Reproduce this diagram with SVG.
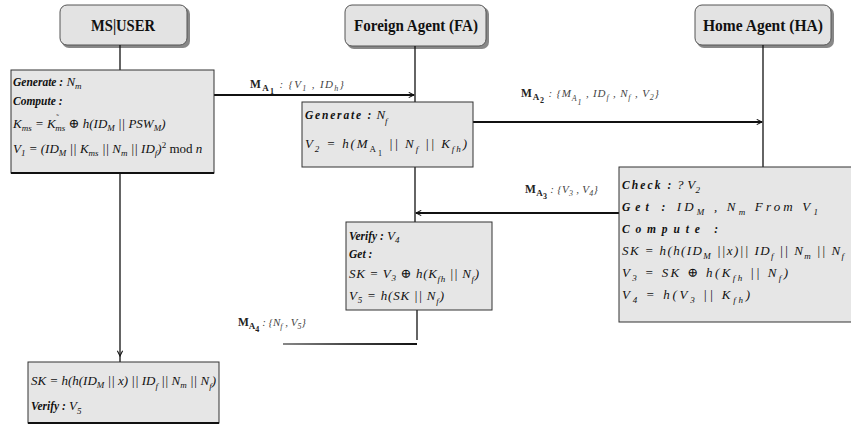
<svg xmlns="http://www.w3.org/2000/svg" width="851" height="425" viewBox="0 0 851 425">
  <style>
    text { font-family: "Liberation Serif", "DejaVu Serif", "Times New Roman", serif; fill: #111; }
    .hdr { font-size: 16.5px; font-weight: bold; text-anchor: middle; }
    .hbox { fill: #e3e3e3; stroke: #555; stroke-width: 1; }
    .shadow { fill: #888; }
    .box { fill: #e6e6e6; stroke: #333; stroke-width: 1; }
    .eq { font-size: 13px; font-style: italic; }
    .kw { font-size: 11.5px; font-style: italic; font-weight: bold; }
    .kwsp { font-size: 11.5px; font-style: italic; font-weight: bold; letter-spacing: 1.8px; }
    .lbl { font-size: 11.5px; font-weight: bold; fill: #222; }
    .lblr { font-size: 11px; font-style: italic; fill: #444; }
    .sub { font-size: 9px; }
    .line { stroke: #111; stroke-width: 1.3; fill: none; }
    .thick { stroke: #111; stroke-width: 2; fill: none; }
  </style>
  <defs>
    <marker id="arr" viewBox="0 0 8 8" refX="7" refY="4" markerWidth="7" markerHeight="7" orient="auto" markerUnits="userSpaceOnUse">
      <path d="M1,1 L7,4 L1,7" fill="none" stroke="#111" stroke-width="1.2"/>
    </marker>
    <linearGradient id="fade" gradientUnits="userSpaceOnUse" x1="283" y1="0" x2="417" y2="0">
      <stop offset="0" stop-color="#888"/>
      <stop offset="0.5" stop-color="#444"/>
      <stop offset="1" stop-color="#111"/>
    </linearGradient>
  </defs>

  <rect width="851" height="425" fill="#fff"/>

  <!-- lifeline headers -->
  <g id="ms-header">
    <rect x="62" y="7" width="128" height="41" rx="7" class="shadow"/>
    <rect x="60" y="5" width="127" height="40" rx="7" class="hbox"/>
    <text x="123" y="31" class="hdr" textLength="64" lengthAdjust="spacingAndGlyphs">MS|USER</text>
  </g>
  <g id="fa-header">
    <rect x="347" y="7" width="142" height="42" rx="7" class="shadow"/>
    <rect x="345" y="5" width="141" height="41" rx="7" class="hbox"/>
    <text x="416" y="31" class="hdr" textLength="124" lengthAdjust="spacingAndGlyphs">Foreign Agent (FA)</text>
  </g>
  <g id="ha-header">
    <rect x="697" y="7" width="137" height="41" rx="7" class="shadow"/>
    <rect x="695" y="5" width="136" height="40" rx="7" class="hbox"/>
    <text x="763" y="31" class="hdr" textLength="120" lengthAdjust="spacingAndGlyphs">Home Agent (HA)</text>
  </g>

  <!-- connectors and message labels -->
  <g id="connectors">
    <line x1="120" y1="45" x2="120" y2="70" class="line"/>
    <line x1="415" y1="46" x2="415" y2="102" class="line"/>
    <line x1="763" y1="45" x2="763" y2="167" class="line"/>
    <line x1="415" y1="167" x2="415" y2="222" class="line"/>
    <line x1="120" y1="173" x2="120" y2="356" class="line" marker-end="url(#arr)"/>
    <line x1="120" y1="356" x2="120" y2="362" class="line"/>
    <line x1="417" y1="310" x2="417" y2="340" class="line"/>

    <!-- M_A1 -->
    <line x1="214" y1="95" x2="414" y2="95" class="thick" marker-end="url(#arr)"/>
    <text x="250" y="88" class="lbl" textLength="94" lengthAdjust="spacing">M<tspan dy="3" class="sub">A</tspan><tspan dy="3" font-size="8">1</tspan><tspan dy="-6" class="lblr" font-weight="normal"> : {V<tspan dy="3" font-size="8">1</tspan><tspan dy="-3"> , ID</tspan><tspan dy="3" font-size="8">h</tspan><tspan dy="-3">}</tspan></tspan></text>

    <!-- M_A2 -->
    <line x1="473" y1="122" x2="762" y2="122" class="thick" marker-end="url(#arr)"/>
    <text x="521" y="97" class="lbl" textLength="138" lengthAdjust="spacing">M<tspan dy="3" class="sub">A</tspan><tspan dy="3" font-size="8">2</tspan><tspan dy="-6" class="lblr" font-weight="normal"> : {M<tspan dy="4" font-size="8">A</tspan><tspan dy="4" font-size="8">1</tspan><tspan dy="-8"> , ID</tspan><tspan dy="3" font-size="8">f</tspan><tspan dy="-3"> , N</tspan><tspan dy="3" font-size="8">f</tspan><tspan dy="-3"> , V</tspan><tspan dy="3" font-size="8">2</tspan><tspan dy="-3">}</tspan></tspan></text>

    <!-- M_A3 -->
    <line x1="619" y1="213" x2="416" y2="213" class="thick" marker-end="url(#arr)"/>
    <text x="525" y="193" class="lbl" textLength="73" lengthAdjust="spacing">M<tspan dy="3" class="sub">A</tspan><tspan dy="3" font-size="8">3</tspan><tspan dy="-6" class="lblr" font-weight="normal"> : {V<tspan dy="3" font-size="8">3</tspan><tspan dy="-3"> , V</tspan><tspan dy="3" font-size="8">4</tspan><tspan dy="-3">}</tspan></tspan></text>

    <!-- M_A4 -->
    <line x1="283" y1="344" x2="417" y2="344" stroke="url(#fade)" stroke-width="2"/>
    <text x="238" y="326" class="lbl" textLength="68" lengthAdjust="spacing">M<tspan dy="3" class="sub">A</tspan><tspan dy="3" font-size="8">4</tspan><tspan dy="-6" class="lblr" font-weight="normal"> : {N<tspan dy="3" font-size="8">f</tspan><tspan dy="-3"> , V</tspan><tspan dy="3" font-size="8">5</tspan><tspan dy="-3">}</tspan></tspan></text>
  </g>

  <!-- MS first computation -->
  <g id="ms-compute">
    <rect x="11" y="70" width="203" height="103" class="box"/>
    <line x1="11" y1="173" x2="214" y2="173" class="thick"/>
    <text x="13" y="86"><tspan class="kw">Generate :</tspan><tspan class="eq" font-size="12"> N</tspan><tspan class="eq sub" dy="3">m</tspan></text>
    <text x="13" y="105" class="kw" font-size="12.5">Compute :</text>
    <text x="13" y="128" class="eq">K<tspan dy="3" class="sub">ms</tspan><tspan dy="-3"> = K</tspan><tspan dy="-8" font-size="8">˜</tspan><tspan dx="-3" dy="11" class="sub">ms</tspan><tspan dy="-3" font-style="normal"> ⊕ </tspan><tspan>h(ID</tspan><tspan dy="3" class="sub">M</tspan><tspan dy="-3"> || PSW</tspan><tspan dy="3" class="sub">M</tspan><tspan dy="-3">)</tspan></text>
    <text x="13" y="153" class="eq">V<tspan dy="3" class="sub">1</tspan><tspan dy="-3"> = (ID</tspan><tspan dy="3" class="sub">M</tspan><tspan dy="-3"> || K</tspan><tspan dy="3" class="sub">ms</tspan><tspan dy="-3"> || N</tspan><tspan dy="3" class="sub">m</tspan><tspan dy="-3"> || ID</tspan><tspan dy="3" class="sub">f</tspan><tspan dy="-3">)</tspan><tspan dy="-5" class="sub" font-style="normal">2</tspan><tspan dy="5" font-style="normal"> mod </tspan><tspan>n</tspan></text>
  </g>

  <!-- FA first computation -->
  <g id="fa-compute">
    <rect x="302" y="102" width="171" height="65" class="box"/>
    <text x="305" y="119"><tspan class="kwsp" letter-spacing="1">Generate :</tspan><tspan class="eq"> N</tspan><tspan class="eq sub" dy="5">f</tspan></text>
    <text x="305" y="148" class="eq" textLength="162" lengthAdjust="spacing">V<tspan dy="4" class="sub">2</tspan><tspan dy="-4"> = h(M</tspan><tspan dy="4" class="sub" font-style="normal">A</tspan><tspan dy="4" font-size="8" font-style="normal">1</tspan><tspan dy="-8"> || N</tspan><tspan dy="4" class="sub">f</tspan><tspan dy="-4"> || K</tspan><tspan dy="4" class="sub">fh</tspan><tspan dy="-4">)</tspan></text>
  </g>

  <!-- HA computation -->
  <g id="ha-compute">
    <rect x="619" y="167" width="240" height="155" class="box"/>
    <text x="622" y="189" textLength="78" lengthAdjust="spacing"><tspan class="kwsp">Check :</tspan><tspan class="eq"> ? V</tspan><tspan class="eq sub" dy="4">2</tspan></text>
    <text x="622" y="211" textLength="196" lengthAdjust="spacing"><tspan class="kwsp">Get :</tspan><tspan class="eq"> ID</tspan><tspan class="eq sub" dy="4">M</tspan><tspan class="eq" dy="-4"> , N</tspan><tspan class="eq sub" dy="4">m</tspan><tspan class="eq" dy="-4" font-style="normal">  From  </tspan><tspan class="eq">V</tspan><tspan class="eq sub" dy="4">1</tspan></text>
    <text x="622" y="233" class="kwsp" textLength="98" lengthAdjust="spacing">Compute :</text>
    <text x="622" y="255" class="eq" textLength="222" lengthAdjust="spacing">SK = h(h(ID<tspan dy="4" class="sub">M</tspan><tspan dy="-4"> ||x)|| ID</tspan><tspan dy="4" class="sub">f</tspan><tspan dy="-4"> || N</tspan><tspan dy="4" class="sub">m</tspan><tspan dy="-4"> || N</tspan><tspan dy="4" class="sub">f</tspan></text>
    <text x="622" y="277" class="eq" textLength="166" lengthAdjust="spacing">V<tspan dy="4" class="sub">3</tspan><tspan dy="-4"> = SK </tspan><tspan font-style="normal">⊕</tspan><tspan> h(K</tspan><tspan dy="4" class="sub">fh</tspan><tspan dy="-4"> || N</tspan><tspan dy="4" class="sub">f</tspan><tspan dy="-4">)</tspan></text>
    <text x="622" y="299" class="eq" textLength="128" lengthAdjust="spacing">V<tspan dy="4" class="sub">4</tspan><tspan dy="-4"> = h(V</tspan><tspan dy="4" class="sub">3</tspan><tspan dy="-4"> || K</tspan><tspan dy="4" class="sub">fh</tspan><tspan dy="-4">)</tspan></text>
  </g>

  <!-- FA verification -->
  <g id="fa-verify">
    <rect x="346" y="222" width="146" height="88" class="box"/>
    <text x="349" y="240"><tspan class="kw">Verify :</tspan><tspan class="eq"> V</tspan><tspan class="eq sub" dy="3">4</tspan></text>
    <text x="349" y="258" class="kw">Get :</text>
    <text x="349" y="278" class="eq" textLength="130" lengthAdjust="spacing">SK = V<tspan dy="3" class="sub">3</tspan><tspan dy="-3" font-style="normal"> ⊕ </tspan><tspan>h(K</tspan><tspan dy="4" class="sub">fh</tspan><tspan dy="-4"> || N</tspan><tspan dy="4" class="sub">f</tspan><tspan dy="-4">)</tspan></text>
    <text x="349" y="300" class="eq" textLength="95" lengthAdjust="spacing">V<tspan dy="3" class="sub">5</tspan><tspan dy="-3"> = h(SK || N</tspan><tspan dy="4" class="sub">f</tspan><tspan dy="-4">)</tspan></text>
  </g>

  <!-- MS final computation -->
  <g id="ms-final">
    <rect x="28" y="362" width="191" height="61" class="box"/>
    <line x1="28" y1="423" x2="219" y2="423" class="thick"/>
    <text x="31" y="385" class="eq" font-size="12">SK = h(h(ID<tspan dy="3" class="sub">M</tspan><tspan dy="-3"> || x) || ID</tspan><tspan dy="4" class="sub">f</tspan><tspan dy="-4"> || N</tspan><tspan dy="3" class="sub">m</tspan><tspan dy="-3"> || N</tspan><tspan dy="4" class="sub">f</tspan><tspan dy="-4">)</tspan></text>
    <text x="31" y="410"><tspan class="kw">Verify :</tspan><tspan class="eq"> V</tspan><tspan class="eq sub" dy="4">5</tspan></text>
  </g>
</svg>
